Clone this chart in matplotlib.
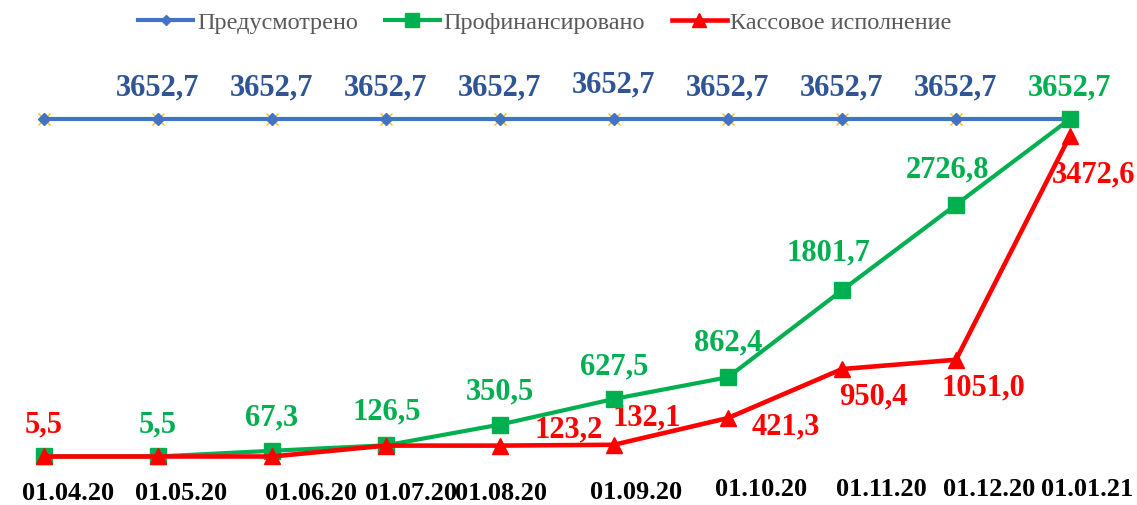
import matplotlib
matplotlib.use("Agg")
import matplotlib.pyplot as plt

plt.rcParams['font.family'] = ['Liberation Serif', 'DejaVu Serif']

dates = ["01.04.20", "01.05.20", "01.06.20", "01.07.20", "01.08.20",
         "01.09.20", "01.10.20", "01.11.20", "01.12.20", "01.01.21"]
planned = [3652.7] * 10
financed = [5.5, 5.5, 67.3, 126.5, 350.5, 627.5, 862.4, 1801.7, 2726.8, 3652.7]
executed = [5.5, 5.5, 5.5, 123.2, 123.2, 132.1, 421.3, 950.4, 1051.0, 3472.6]

# which points carry value labels
planned_labeled = [False, True, True, True, True, True, True, True, True, False]
financed_labeled = [False, True, True, True, True, True, True, True, True, True]
executed_labeled = [True, False, False, False, True, True, True, True, True, True]

# label offsets in pixels (dx, dy) -- layout only
planned_off = [(0, 32)] * 10
planned_off[5] = (0, 35)
financed_off = [(0, 33), (0, 33), (0, 34), (1, 34), (0, 34), (0, 33), (0, 35), (-14, 38), (-8, 36), (0, 32)]
executed_off = [(0, 33), (0, 0), (0, 0), (0, 0), (69, 17), (33, 28), (58, -8), (31, -27), (27, -27), (24, -38)]
xlabel_off = [(24, -42), (23, -42), (39, -42), (25, -42), (1, -42), (22, -41), (33, -38), (39, -38), (33, -38), (17, -38)]

BLUE = '#4472C4'
BLUE_TXT = '#2F5597'
GREEN = '#00B050'
RED = '#FF0000'

fig = plt.figure(figsize=(11.37, 5.06), dpi=100)
ax = fig.add_axes([0, 0, 1, 1])
x = list(range(len(dates)))

ax.plot(x, planned, linestyle='none', marker='x', color='#FFC000', markersize=8, mew=1, zorder=2)
lp, = ax.plot(x, planned, color=BLUE, lw=3, marker='D', markersize=6, label='Предусмотрено', zorder=3)
lf, = ax.plot(x, financed, color=GREEN, lw=3, marker='s', markersize=12, label='Профинансировано', zorder=4)
le, = ax.plot(x, executed, color=RED, lw=3.3, marker='^', markersize=12, label='Кассовое исполнение', zorder=5)

def fmt(v):
    return f"{v:.1f}".replace('.', ',')

for i in x:
    if planned_labeled[i]:
        ax.annotate(fmt(planned[i]), (i, planned[i]), xytext=planned_off[i], textcoords='offset pixels',
                    ha='center', va='center', fontsize=22, fontweight='bold', color=BLUE_TXT)
    if financed_labeled[i]:
        ax.annotate(fmt(financed[i]), (i, financed[i]), xytext=financed_off[i], textcoords='offset pixels',
                    ha='center', va='center', fontsize=22, fontweight='bold', color=GREEN)
    if executed_labeled[i]:
        ax.annotate(fmt(executed[i]), (i, executed[i]), xytext=executed_off[i], textcoords='offset pixels',
                    ha='center', va='center', fontsize=22, fontweight='bold', color=RED)
    ax.annotate(dates[i], (i, 0), xytext=xlabel_off[i], textcoords='offset pixels',
                ha='center', va='baseline', fontsize=19, fontweight='bold', color='black')

ax.set_xlim(-44 / 114, (1137 - 44) / 114)
k = 338 / 3652.7
ax.set_ylim(-48 / k, 458 / k)
ax.axis('off')

fig.legend(handles=[lp, lf, le], loc='center', bbox_to_anchor=(545 / 1137, 1 - 23 / 506), ncol=3,
           frameon=False, fontsize=17.5, handlelength=2.26, handletextpad=0.16, columnspacing=1.1,
           labelcolor='#595959', markerscale=0.8)

fig.savefig('out.png', dpi=100)
